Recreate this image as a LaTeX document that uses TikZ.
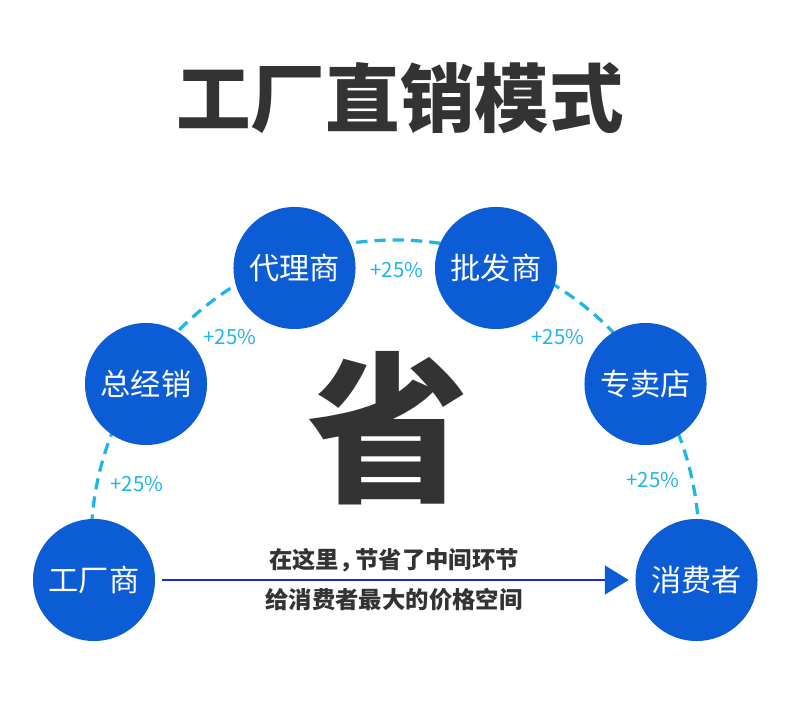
\documentclass[tikz,border=0pt]{standalone}
\usepackage{fontspec}
\usepackage{tikz}
\usetikzlibrary{arrows.meta,calc,positioning}
\newfontfamily\cjk[Script=CJK,Language=Chinese Simplified]{Noto Sans CJK SC}
\definecolor{kreisblau}{RGB}{11,92,213}
\definecolor{linienblau}{RGB}{35,40,215}
\definecolor{tuerkis}{RGB}{30,182,232}
\definecolor{dunkel}{RGB}{51,51,51}

\begin{document}
\begin{tikzpicture}[x=0.025cm,y=0.025cm,
  kreis/.style={circle,fill=kreisblau,minimum size=3.05cm,inner sep=0pt,text=white,font=\cjk\fontsize{21.5}{24}\selectfont},
  prozent/.style={text=tuerkis,inner sep=0pt,font=\cjk\fontsize{14.5}{16}\selectfont},
  zeile/.style={text=dunkel,inner sep=0pt,font=\cjk\bfseries\fontsize{16.6}{20}\selectfont}]
%Hintergrund, 1 Einheit = 1 Pixel
\fill[white] (0,0) rectangle (790,723);
\useasboundingbox (0,0) rectangle (790,723);
  \pgfmathsetmacro{\R}{304}
%Mittelpunkt vom gestrichelten Bogen
\coordinate (m) at (395,179);
\draw[tuerkis,line width=2.3pt,dash pattern=on 8pt off 5pt] ([shift={(180:\R)}]m) arc[start angle=180,end angle=0,radius=\R*0.025cm];
\node[text=dunkel,inner sep=0pt,font=\cjk\bfseries\fontsize{53}{60}\selectfont] (titel) at (400,625) {工厂直销模式};
\node[text=dunkel,inner sep=0pt,font=\cjk\bfseries\fontsize{115}{120}\selectfont] (sheng) at (388,295) {省};
\foreach \name/\x/\y/\txt in {fab/94/143/工厂商,ges/146/339/总经销,age/294.5/455/代理商,gross/496/455/批发商,laden/645.5/339/专卖店,kon/696.5/143/消费者}{
\node[kreis] (\name) at (\x,\y) {\txt};
}
\foreach \name/\x/\y in {p1/137/239,p2/230/386,p3/397/453,p4/558/386,p5/653/243}{
\node[prozent] (\name) at (\x,\y) {+25\%};
}
\draw[linienblau,line width=1.4pt,shorten <=5pt,shorten >=4.6pt,-{Triangle[length=17pt,width=20.5pt,color=kreisblau]}] (fab) -- (kon);
\node[zeile] (z1) at (394,163) {在这里，\kern-.3em 节省了中间环节};
\node[zeile] (z2) at (394,123) {给消费者最大的价格空间};
\end{tikzpicture}
\end{document}
